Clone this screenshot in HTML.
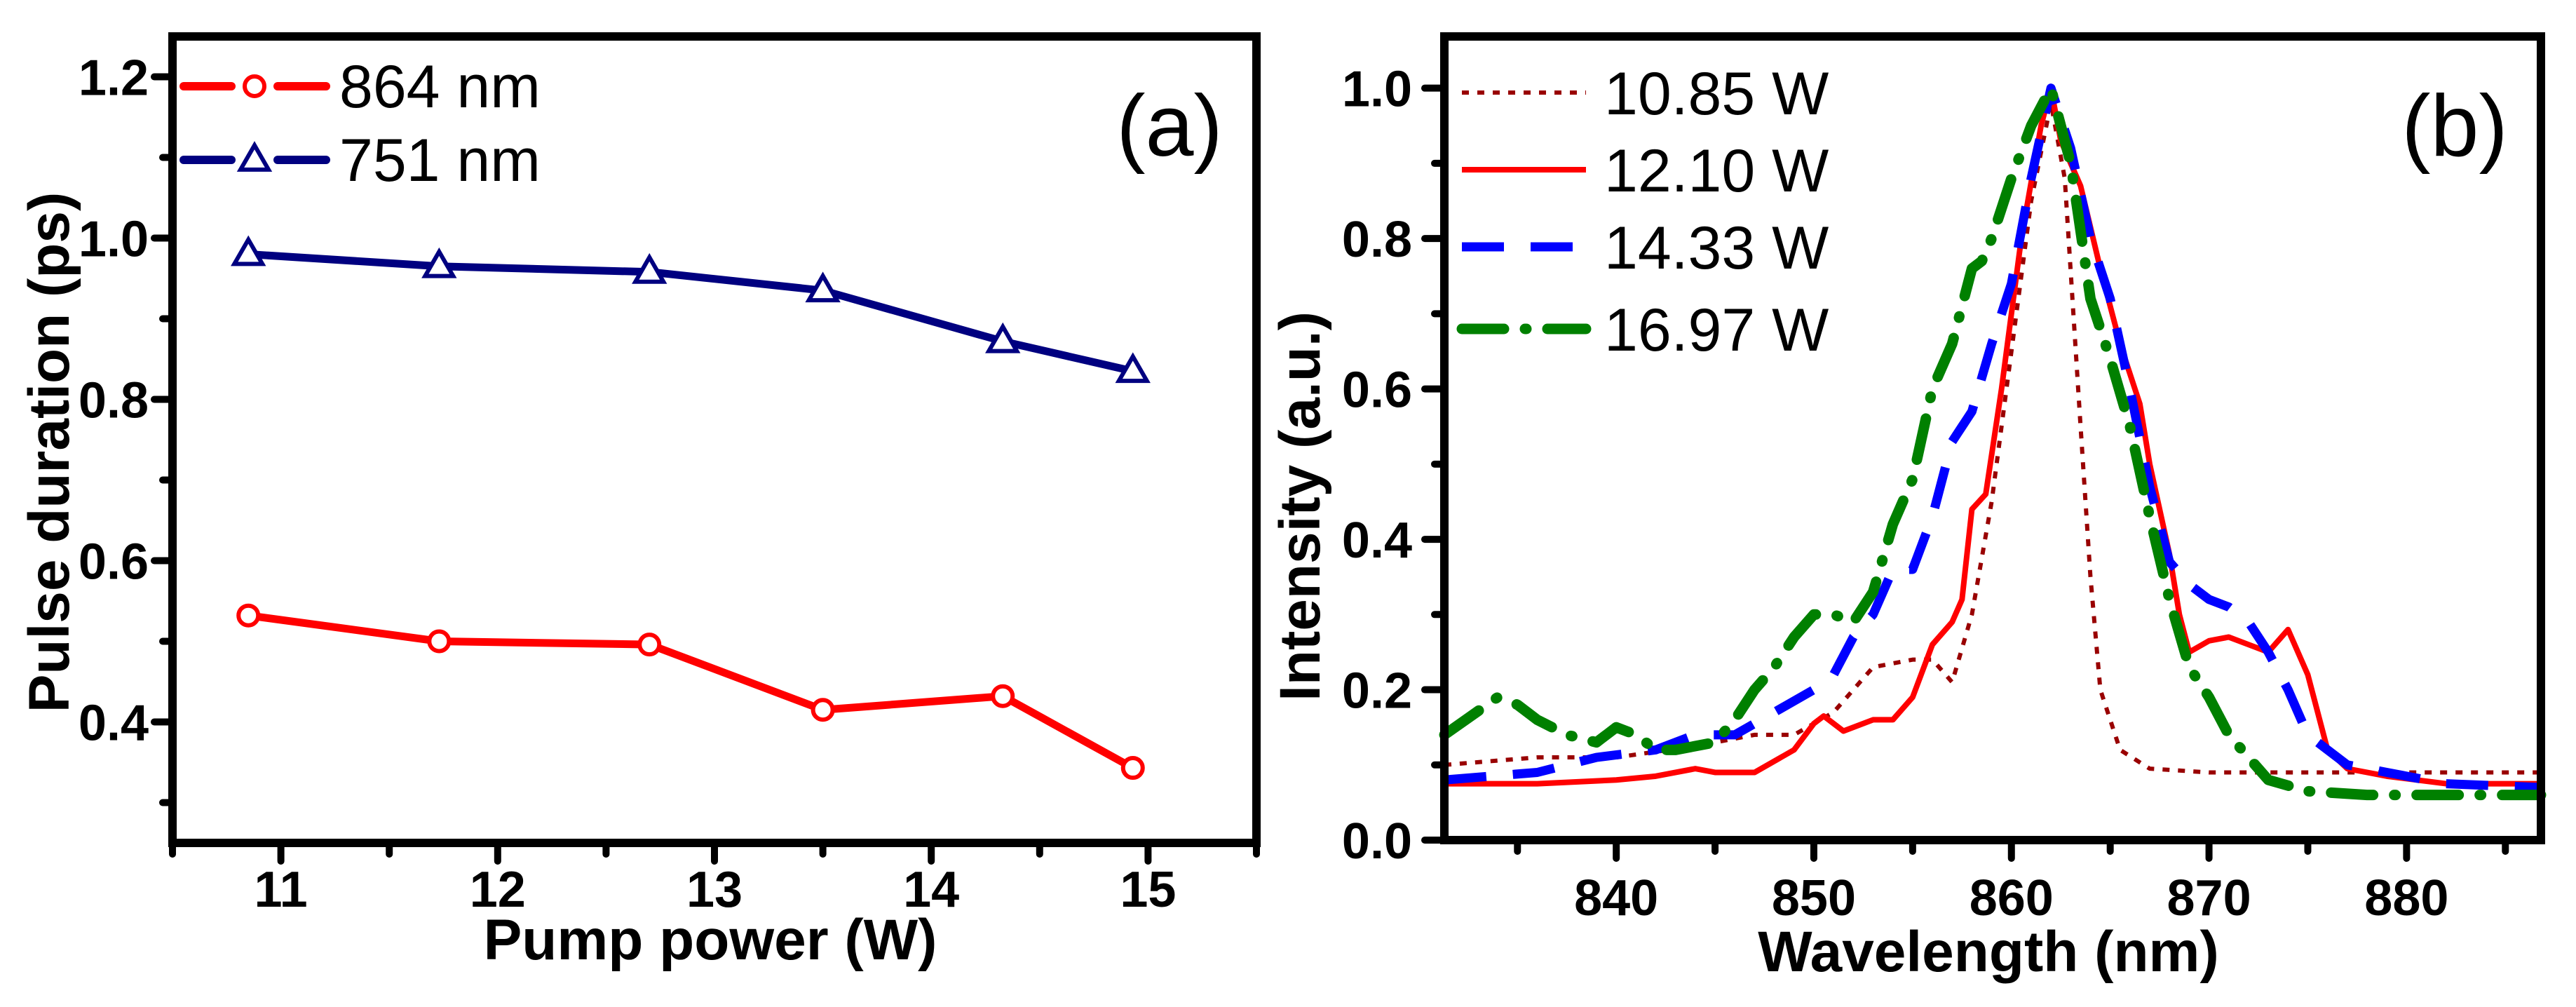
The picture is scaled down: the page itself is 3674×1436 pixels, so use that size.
<!DOCTYPE html>
<html><head><meta charset="utf-8"><style>
html,body{margin:0;padding:0;background:#fff;}
svg{display:block;}
text{font-family:"Liberation Sans",sans-serif;}
</style></head><body>
<svg id="fig" width="3674" height="1436" viewBox="0 0 3674 1436" xmlns="http://www.w3.org/2000/svg">
<g id="pa"></g>
<g id="pb"></g>
</svg>
<script>
// Panel (a) data
const powerA = [10.85, 11.73, 12.7, 13.5, 14.33, 14.93];
const dur864 = [0.532, 0.5, 0.496, 0.415, 0.432, 0.343];
const dur751 = [0.98, 0.965, 0.958, 0.935, 0.872, 0.835];
const xTicksA = [11, 12, 13, 14, 15];
const yTicksA = [0.4, 0.6, 0.8, 1.0, 1.2];
// Panel (b) data
const wl1085 = [831.3,836,840,844,847,849,851,853,855,856,857,858,859,860,861,862,862.7,863.5,864,864.5,865.5,867,870,875,880,886.8];
const in1085 = [0.10,0.11,0.11,0.125,0.14,0.14,0.17,0.23,0.24,0.24,0.21,0.3,0.45,0.65,0.85,0.98,0.88,0.55,0.35,0.2,0.12,0.095,0.09,0.09,0.09,0.09];
const wl1210 = [831.3,836,840,842,844,845,847,849,850,850.5,851.5,853,854,855,856,857,857.5,858,858.7,859.5,860.5,861.5,862,862.5,863.5,864.5,865.5,866.5,867,868,868.5,869,870,871,872,873,874,875,876,877,879,882,886.8];
const in1210 = [0.075,0.075,0.08,0.085,0.095,0.09,0.09,0.12,0.155,0.165,0.145,0.16,0.16,0.19,0.26,0.29,0.32,0.44,0.46,0.6,0.8,0.95,1.0,0.93,0.87,0.76,0.66,0.58,0.5,0.38,0.3,0.25,0.265,0.27,0.26,0.25,0.28,0.22,0.12,0.095,0.085,0.075,0.075];
const wl1433 = [831.3,836,839,842,844,846,848,850,851,852,853,854,855,856,857,858,859,860,861,862,863,864,865,866,867,868,869,870,871,872,873,874,875,876,877,879,882,886.8];
const in1433 = [0.08,0.09,0.11,0.12,0.14,0.14,0.17,0.2,0.22,0.27,0.3,0.36,0.36,0.43,0.53,0.57,0.66,0.74,0.88,1.0,0.92,0.8,0.72,0.6,0.47,0.37,0.34,0.32,0.31,0.29,0.25,0.2,0.14,0.12,0.1,0.09,0.075,0.07];
const wl1697 = [831.3,834,835,836,837.5,839,840,841,842,843,845,846,847,848,849,850,851,852,853,854,855,856,857,858,858.5,859,860,861,862,863,864,865,866,867,868,869,870,871,872,873,875,878,882,886.8];
const in1697 = [0.14,0.19,0.18,0.16,0.14,0.13,0.15,0.14,0.12,0.12,0.13,0.16,0.2,0.23,0.27,0.3,0.3,0.29,0.33,0.42,0.48,0.6,0.66,0.76,0.77,0.8,0.88,0.95,1.0,0.9,0.72,0.64,0.55,0.43,0.32,0.23,0.19,0.14,0.11,0.08,0.065,0.06,0.06,0.06];
const xTicksB = [840, 850, 860, 870, 880];
const yTicksB = [0.0, 0.2, 0.4, 0.6, 0.8, 1.0];

const NS = "http://www.w3.org/2000/svg";
function mk(tag, attrs, parent){const e=document.createElementNS(NS,tag);for(const k in attrs)e.setAttribute(k,attrs[k]);parent.appendChild(e);return e;}

// ---------- Panel A ----------
const pa = document.getElementById('pa');
const A = {l:246, r:1792, t:52, b:1202, x0:10.5, x1:15.5, y0:0.25, y1:1.25};
const ax = v => A.l + (v-A.x0)/(A.x1-A.x0)*(A.r-A.l);
const ay = v => A.b - (v-A.y0)/(A.y1-A.y0)*(A.b-A.t);
let f = mk('rect',{x:A.l,y:A.t,width:A.r-A.l,height:A.b-A.t,fill:'none',stroke:'#000','stroke-width':12},pa);
 
for(let v=10.5; v<=15.51; v+=0.5){
  const major = Math.abs(v-Math.round(v))<1e-6;
  const t = mk('line',{x1:ax(v),x2:ax(v),y1:A.b,y2:A.b+(major?26:16),stroke:'#000','stroke-width':10,'stroke-linecap':'round'},pa);
   
}
xTicksA.forEach(v=>{const t=mk('text',{x:ax(v),y:1293,'font-size':72,'font-weight':'bold','text-anchor':'middle'},pa);t.textContent=v;
   });
for(let v=0.3; v<=1.21; v+=0.1){
  const major = Math.abs(v*10/2-Math.round(v*10/2))<1e-6;
  const t = mk('line',{x1:A.l,x2:A.l-(major?26:14),y1:ay(v),y2:ay(v),stroke:'#000','stroke-width':10,'stroke-linecap':'round'},pa);
   
}
yTicksA.forEach(v=>{const t=mk('text',{x:212,y:ay(v)+26,'font-size':72,'font-weight':'bold','text-anchor':'end'},pa);t.textContent=v.toFixed(1);
   });
let tt = mk('text',{x:1013,y:1368,'font-size':82,'font-weight':'bold','text-anchor':'middle'},pa); tt.textContent='Pump power (W)';
 
tt = mk('text',{x:0,y:0,'font-size':82,'font-weight':'bold','text-anchor':'middle',transform:'translate(98,645) rotate(-90)'},pa); tt.textContent='Pulse duration (ps)';
 
tt = mk('text',{x:1668,y:222,'font-size':124,'text-anchor':'middle'},pa); tt.textContent='(a)';
 

function tri(cx,cy,s,col,parent,name){const h=s*0.87;const p=mk('polygon',{points:`${cx},${cy-h*0.6} ${cx-s/2},${cy+h*0.4} ${cx+s/2},${cy+h*0.4}`,fill:'#fff',stroke:col,'stroke-width':6,'stroke-linejoin':'miter'},parent);
   }
function circ(cx,cy,col,parent,name){const c=mk('circle',{cx:cx,cy:cy,r:14,fill:'#fff',stroke:col,'stroke-width':6},parent);
   }

const lRed = mk('polyline',{points:powerA.map((x,i)=>ax(x)+','+ay(dur864[i])).join(' '),fill:'none',stroke:'#ff0000','stroke-width':11},pa);
 
const lBlue = mk('polyline',{points:powerA.map((x,i)=>ax(x)+','+ay(dur751[i])).join(' '),fill:'none',stroke:'#000080','stroke-width':11},pa);
 
powerA.forEach((x,i)=>{circ(ax(x),ay(dur864[i]),'#ff0000',pa,'point-864nm'); tri(ax(x),ay(dur751[i]),40,'#000080',pa,'point-751nm');});
// legend a
[[123,'#ff0000','864 nm','c'],[228,'#000080','751 nm','t']].forEach(([y,col,lab,m])=>{
  const g=mk('g',{},pa);  
  mk('line',{x1:262,x2:330,y1:y,y2:y,stroke:col,'stroke-width':12,'stroke-linecap':'round'},g);
  mk('line',{x1:396,x2:465,y1:y,y2:y,stroke:col,'stroke-width':12,'stroke-linecap':'round'},g);
  if(m==='c') circ(363,y,col,g,'legend-marker'); else tri(363,y,40,col,g,'legend-marker');
  const t=mk('text',{x:484,y:y+30,'font-size':86},g); t.textContent=lab;
});

// ---------- Panel B ----------
const pb = document.getElementById('pb');
const B = {l:2060, r:3624, t:52, b:1198, x0:831.3, x1:886.8, y0:0, y1:1.0687};
const bx = v => B.l + (v-B.x0)/(B.x1-B.x0)*(B.r-B.l);
const by = v => B.b - (v-B.y0)/(B.y1-B.y0)*(B.b-B.t);
function series(xs,ys,col,w,dash,name,cap){
  const p=mk('polyline',{points:xs.map((x,i)=>bx(x)+','+by(ys[i])).join(' '),fill:'none',stroke:col,'stroke-width':w,'stroke-dasharray':dash,'stroke-linecap':cap||'butt','stroke-linejoin':'round'},pb);
   
}
series(wl1085,in1085,'#990000',6,'10 12','line-10.85W');
series(wl1210,in1210,'#ff0000',8,'','line-12.10W');
series(wl1433,in1433,'#0000ff',13,'60 38','line-14.33W');
series(wl1697,in1697,'#008000',15,'60 30 2 30','line-16.97W','round');
f = mk('rect',{x:B.l,y:B.t,width:B.r-B.l,height:B.b-B.t,fill:'none',stroke:'#000','stroke-width':12},pb);
 
for(let v=835; v<=886; v+=5){
  const major = v%10===0;
  const t=mk('line',{x1:bx(v),x2:bx(v),y1:B.b,y2:B.b+(major?26:16),stroke:'#000','stroke-width':10,'stroke-linecap':'round'},pb);
   
}
xTicksB.forEach(v=>{const t=mk('text',{x:bx(v),y:1305,'font-size':72,'font-weight':'bold','text-anchor':'middle'},pb);t.textContent=v;
   });
for(let k=0;k<=10;k++){
  const v=k/10, major=k%2===0;
  const t=mk('line',{x1:B.l,x2:B.l-(major?28:14),y1:by(v),y2:by(v),stroke:'#000','stroke-width':10,'stroke-linecap':'round'},pb);
   
}
yTicksB.forEach(v=>{const t=mk('text',{x:2014,y:by(v)+26,'font-size':72,'font-weight':'bold','text-anchor':'end'},pb);t.textContent=v.toFixed(1);
   });
tt = mk('text',{x:2836,y:1385,'font-size':82,'font-weight':'bold','text-anchor':'middle'},pb); tt.textContent='Wavelength (nm)';
 
tt = mk('text',{x:0,y:0,'font-size':82,'font-weight':'bold','text-anchor':'middle',transform:'translate(1882,722) rotate(-90)'},pb); tt.textContent='Intensity (a.u.)';
 
tt = mk('text',{x:3501,y:222,'font-size':124,'text-anchor':'middle'},pb); tt.textContent='(b)';
 
[[132,'#990000',6,'10 12','10.85 W','butt'],[242,'#ff0000',8,'','12.10 W','butt'],[352,'#0000ff',13,'60 38','14.33 W','butt'],[469,'#008000',15,'60 30 2 30','16.97 W','round']].forEach(([y,col,w,d,lab,cap])=>{
  const g=mk('g',{},pb);  
  mk('line',{x1:2085,x2:2262,y1:y,y2:y,stroke:col,'stroke-width':w,'stroke-dasharray':d,'stroke-linecap':cap},g);
  const t=mk('text',{x:2288,y:y+31,'font-size':86},g); t.textContent=lab;
});
</script>
</body></html>
